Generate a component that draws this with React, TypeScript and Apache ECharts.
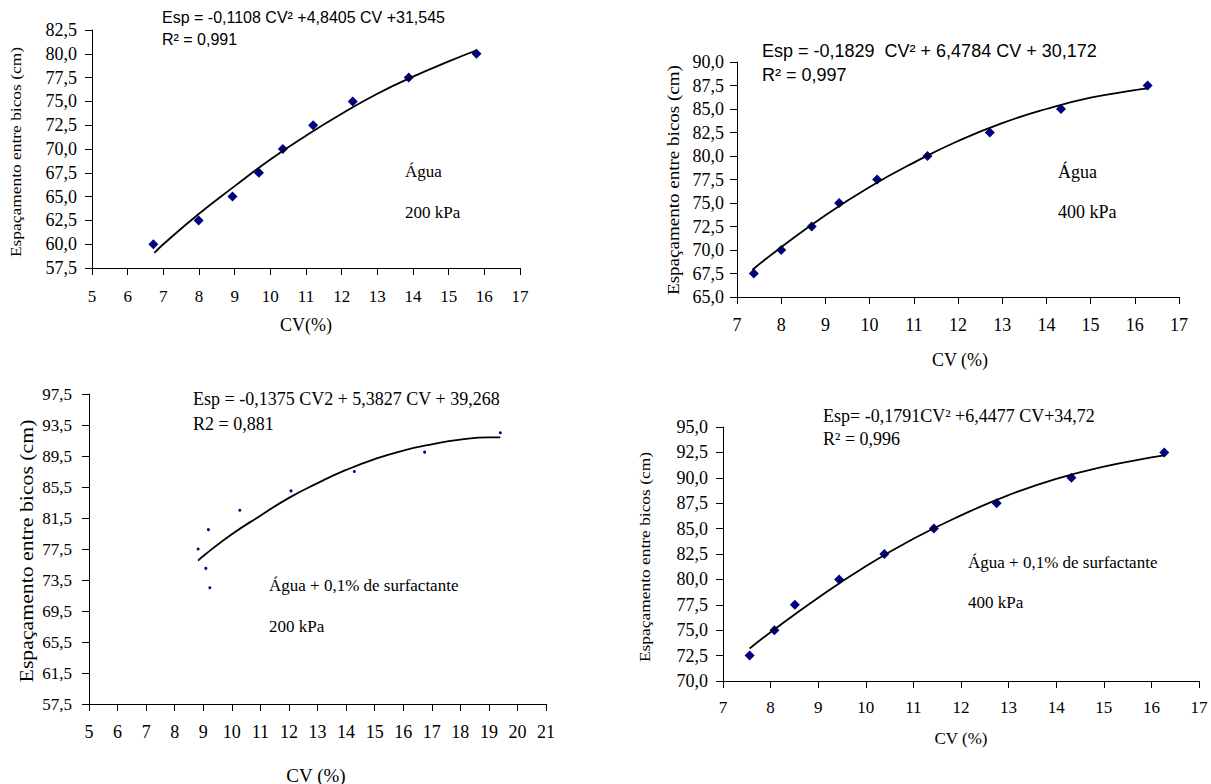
import React, { useEffect, useRef } from "react";
import * as echarts from "echarts";

// ---------- Panel 1: Água, 200 kPa ----------
const p1CV = [6.72, 7.99, 8.94, 9.68, 10.35, 11.2, 12.31, 13.88, 15.78];
const p1Esp = [60, 62.5, 65, 67.5, 70, 72.5, 75, 77.5, 80];
const p1TrendCV = [6.75, 7, 8, 9, 10, 11, 12, 13, 14, 15, 15.8];
const p1TrendEsp = [59.1, 60.0, 63.2, 66.1, 68.9, 71.4, 73.7, 75.8, 77.6, 79.2, 80.4];

// ---------- Panel 2: Água, 400 kPa ----------
const p2CV = [7.38, 8.0, 8.69, 9.31, 10.17, 11.31, 12.72, 14.33, 16.29];
const p2Esp = [67.5, 70, 72.5, 75, 77.5, 80, 82.5, 85, 87.5];
const p2TrendCV = [7.35, 8, 9, 10, 11, 12, 13, 14, 15, 16, 16.3];
const p2TrendEsp = [67.9, 70.3, 73.7, 76.7, 79.3, 81.6, 83.5, 85.0, 86.2, 87.0, 87.2];

// ---------- Panel 3: Água + 0,1% surfactante, 200 kPa ----------
const p3CV = [8.82, 9.18, 9.09, 9.23, 10.28, 12.07, 14.29, 16.75, 19.4];
const p3Esp = [77.5, 80, 75, 72.5, 82.5, 85, 87.5, 90, 92.5];
const p3TrendCV = [8.82, 9, 10, 11, 12, 13, 14, 15, 16, 17, 18, 19, 19.4];
const p3TrendEsp = [76.0, 76.6, 79.4, 81.8, 84.1, 86.0, 87.7, 89.1, 90.2, 91.0, 91.6, 91.9, 91.9];
const p3YTicks = [57.5, 61.5, 65.5, 69.5, 73.5, 77.5, 81.5, 85.5, 89.5, 93.5, 97.5];

// ---------- Panel 4: Água + 0,1% surfactante, 400 kPa ----------
const p4CV = [7.56, 8.08, 8.51, 9.44, 10.39, 11.43, 12.75, 14.32, 16.27];
const p4Esp = [72.5, 75, 77.5, 80, 82.5, 85, 87.5, 90, 92.5];
const p4TrendCV = [7.56, 8, 9, 10, 11, 12, 13, 14, 15, 16, 16.27];
const p4TrendEsp = [73.2, 74.8, 78.2, 81.3, 84.0, 86.3, 88.3, 89.9, 91.1, 92.0, 92.2];

// ---------- Texts ----------
const yTitle = "Espaçamento entre bicos (cm)";
const eq1 = "Esp = -0,1108 CV² +4,8405 CV +31,545";
const r1 = "R² = 0,991";
const eq2 = "Esp = -0,1829  CV² + 6,4784 CV + 30,172";
const r2 = "R² = 0,997";
const eq3 = "Esp = -0,1375 CV2 + 5,3827 CV + 39,268";
const r3 = "R2 = 0,881";
const eq4 = "Esp= -0,1791CV² +6,4477 CV+34,72";
const r4 = "R² = 0,996";

const SERIF = "Liberation Serif";
const SANS = "Liberation Sans";
const NAVY = "#000080";

const zip = (a: number[], b: number[]) => a.map((x, i) => [x, b[i]]);
const fmt = (v: number) => v.toFixed(1).replace(".", ",");

function xAx(gridIndex: number, min: number, max: number, fontSize: number, margin: number) {
  return {
    type: "value",
    gridIndex,
    min,
    max,
    interval: 1,
    axisLine: { show: true, onZero: false, lineStyle: { color: "#000", width: 1 } },
    axisTick: { show: true, length: 7, lineStyle: { color: "#000" } },
    splitLine: { show: false },
    axisLabel: { color: "#000", fontFamily: SERIF, fontSize, margin },
  };
}

function yAx(gridIndex: number, min: number, max: number, fontSize: number, margin: number, interval?: number, custom?: number[]) {
  const ax: any = {
    type: "value",
    gridIndex,
    min,
    max,
    axisLine: { show: true, onZero: false, lineStyle: { color: "#000", width: 1 } },
    axisTick: { show: true, length: 7, lineStyle: { color: "#000" } },
    splitLine: { show: false },
    axisLabel: { color: "#000", fontFamily: SERIF, fontSize, margin, formatter: fmt },
  };
  if (interval) ax.interval = interval;
  if (custom) {
    ax.axisTick.customValues = custom;
    ax.axisLabel.customValues = custom;
  }
  return ax;
}

function txt(text: string, x: number, y: number, family: string, size: number, align = "left") {
  return {
    type: "text",
    x,
    y,
    silent: true,
    style: {
      text,
      fill: "#000",
      fontFamily: family,
      fontSize: size,
      textAlign: align,
      textVerticalAlign: "middle",
    },
  };
}

function vtxt(text: string, x: number, y: number, size: number, stretch: number) {
  return {
    type: "text",
    x,
    y,
    rotation: Math.PI / 2,
    scaleX: stretch,
    silent: true,
    style: {
      text,
      fill: "#000",
      fontFamily: SERIF,
      fontSize: size,
      textAlign: "center",
      textVerticalAlign: "middle",
    },
  };
}

function scatter(idx: number, data: number[][], symbol: string, size: number) {
  return {
    type: "scatter",
    xAxisIndex: idx,
    yAxisIndex: idx,
    data,
    symbol,
    symbolSize: size,
    itemStyle: { color: NAVY, opacity: 1 },
    z: 2,
  };
}

function trend(idx: number, data: number[][]) {
  return {
    type: "line",
    xAxisIndex: idx,
    yAxisIndex: idx,
    data,
    smooth: true,
    showSymbol: false,
    symbol: "none",
    lineStyle: { color: "#000", width: 1.8 },
    z: 3,
  };
}

export default function App() {
  const ref = useRef<HTMLDivElement>(null);
  useEffect(() => {
    const chart = echarts.init(ref.current!, null, { renderer: "svg" });
    const option: any = {
      animation: false,
      backgroundColor: "#fff",
      textStyle: { fontFamily: SERIF },
      grid: [
        { left: 92, top: 30, width: 428, height: 238 },
        { left: 737, top: 62, width: 442, height: 235 },
        { left: 89, top: 394, width: 457, height: 310 },
        { left: 723, top: 427, width: 476, height: 254 },
      ],
      xAxis: [
        xAx(0, 5, 17, 17, 20),
        xAx(1, 7, 17, 18, 19),
        xAx(2, 5, 21, 18, 19),
        xAx(3, 7, 17, 17, 18),
      ],
      yAxis: [
        yAx(0, 57.5, 82.5, 18, 15, 2.5),
        yAx(1, 65, 90, 18, 13, 2.5),
        yAx(2, 57.5, 97.5, 17, 17, undefined, p3YTicks),
        yAx(3, 70, 95, 18, 15, 2.5),
      ],
      series: [
        scatter(0, zip(p1CV, p1Esp), "diamond", 10),
        trend(0, zip(p1TrendCV, p1TrendEsp)),
        scatter(1, zip(p2CV, p2Esp), "diamond", 10),
        trend(1, zip(p2TrendCV, p2TrendEsp)),
        scatter(2, zip(p3CV, p3Esp), "circle", 3),
        trend(2, zip(p3TrendCV, p3TrendEsp)),
        scatter(3, zip(p4CV, p4Esp), "diamond", 10),
        trend(3, zip(p4TrendCV, p4TrendEsp)),
      ],
      graphic: [
        // panel 1
        txt(eq1, 162, 17, SANS, 16),
        txt(r1, 162, 39, SANS, 16),
        txt("Água", 405, 171, SERIF, 17),
        txt("200 kPa", 405, 212, SERIF, 17),
        vtxt(yTitle, 16, 152, 15, 1.16),
        txt("CV(%)", 306, 325, SERIF, 18, "center"),
        // panel 2
        txt(eq2, 762, 51, SANS, 18),
        txt(r2, 762, 75, SANS, 18),
        txt("Água", 1058, 172, SERIF, 18),
        txt("400 kPa", 1058, 212, SERIF, 18),
        vtxt(yTitle, 674, 180, 16, 1.19),
        txt("CV (%)", 960, 360, SERIF, 18, "center"),
        // panel 3
        txt(eq3, 193, 399, SERIF, 18),
        txt(r3, 193, 424, SERIF, 18),
        txt("Água + 0,1% de surfactante", 269, 585, SERIF, 17),
        txt("200 kPa", 269, 626, SERIF, 17),
        vtxt(yTitle, 26, 551, 19, 1.146),
        txt("CV (%)", 316, 775, SERIF, 19, "center"),
        // panel 4
        txt(eq4, 823, 416, SERIF, 18),
        txt(r4, 823, 439, SERIF, 18),
        txt("Água + 0,1% de surfactante", 968, 562, SERIF, 17),
        txt("400 kPa", 968, 602, SERIF, 17),
        vtxt(yTitle, 645, 557, 15, 1.16),
        txt("CV (%)", 961, 738, SERIF, 17, "center"),
      ],
    };
    chart.setOption(option);
    return () => chart.dispose();
  }, []);
  return (
    <div
      ref={ref}
      style={{ position: "absolute", left: 0, top: 0, width: 1211, height: 784, background: "#fff" }}
    />
  );
}
